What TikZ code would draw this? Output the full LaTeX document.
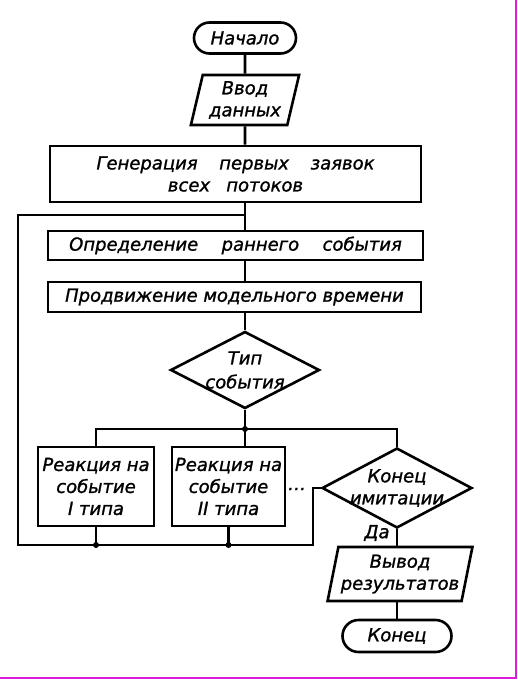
\documentclass[tikz,border=0pt]{standalone}
\usepackage{fontspec}
\setmainfont{DejaVu Sans}[FakeBold=1.2]
\usepackage{xcolor}
\usetikzlibrary{shapes.geometric,shapes.misc}
\definecolor{edge}{RGB}{220,30,220}

\begin{document}
\begin{tikzpicture}[x=1pt, y=-1pt, line width=2.6pt,
		font=\fontsize{18}{22}\selectfont\itshape,
		terminal/.style={draw, rounded rectangle, minimum height=31pt, inner sep=0pt},
		process/.style={draw, rectangle, inner sep=0pt, align=center},
		io/.style={draw, trapezium, trapezium left angle=75, trapezium right angle=105, trapezium stretches=true, inner sep=0pt, align=center},
		decision/.style={draw, diamond, inner sep=0pt},
		junction/.style={circle, fill, inner sep=0pt, minimum size=6pt}]
		\useasboundingbox (0,0) rectangle (518,680);
		\node[terminal, minimum width=102pt] (start) at (245,38) {Начало};
		\node[io, minimum width=109pt, minimum height=50pt] (input) at (245,100) {Ввод\\данных};
		\node[process, minimum width=371pt, minimum height=56pt] (gen) at (235.5,174) {Генерация\hspace{1.2em}первых\hspace{1.2em}заявок\\всех\hspace{0.9em}потоков};
		\node[process, minimum width=375pt, minimum height=29pt] (def) at (235.5,245.5) {Определение\hspace{1.3em}раннего\hspace{1.3em}события};
		\node[process, minimum width=373pt, minimum height=30pt] (adv) at (234.5,297) {Продвижение модельного времени};
		\node[decision, minimum width=149pt, minimum height=77pt, label={[align=center, font=\fontsize{18}{24}\selectfont\itshape]center:Тип\\события}] (type) at (245,370) {};
		\node[process, minimum width=116pt, minimum height=79pt] (react1) at (96,486.5) {Реакция на\\событие\\I типа};
		\node[process, minimum width=113pt, minimum height=79pt] (react2) at (228.5,486.5) {Реакция на\\событие\\II типа};
		\node[decision, minimum width=150pt, minimum height=80pt, label={[align=center]center:Конец\\имитации}] (stop) at (397,488) {};
		\node (dots) at (297,489) {…};
		\node (yes) at (377,533) {Да};
		\node[io, minimum width=145pt, minimum height=54pt] (output) at (400,574) {Вывод\\результатов};
		\node[terminal, minimum width=109pt, minimum height=32pt] (finish) at (397,636) {Конец};
		\coordinate (loopin) at (245,215);
		\coordinate (fork) at (245,429);
		\coordinate (back) at (18,545);
		\coordinate (ret) at (313,545);
		\draw (start) -- (input.north -| start);
		\draw (input) -- (input |- gen.north);
		\draw (gen.south -| input) -- (def.north -| input);
		\draw (def.south -| input) -- (adv.north -| input);
		\draw (adv.south -| type) -- (type.north);
		\draw (type.south) -- (react2.north -| type);
		\draw (react1.north) |- (fork) -| (stop.north);
		\draw (stop.west) -| (ret) -- (back) |- (loopin);
		\draw (react1.south) -- (react1.south |- ret);
		\draw (react2.south) -- (react2.south |- ret);
		\draw (stop.south) -- (output.north -| stop);
		\draw (output.south -| stop) -- (finish.north);
		\node[junction] (forkdot) at (fork) {};
		\node[junction] (dot1) at (react1.south |- ret) {};
		\node[junction] (dot2) at (react2.south |- ret) {};
		\draw[edge, line width=2pt] (516,0) -- (516,678) -- (0,678);
	\end{tikzpicture}
\end{document}
